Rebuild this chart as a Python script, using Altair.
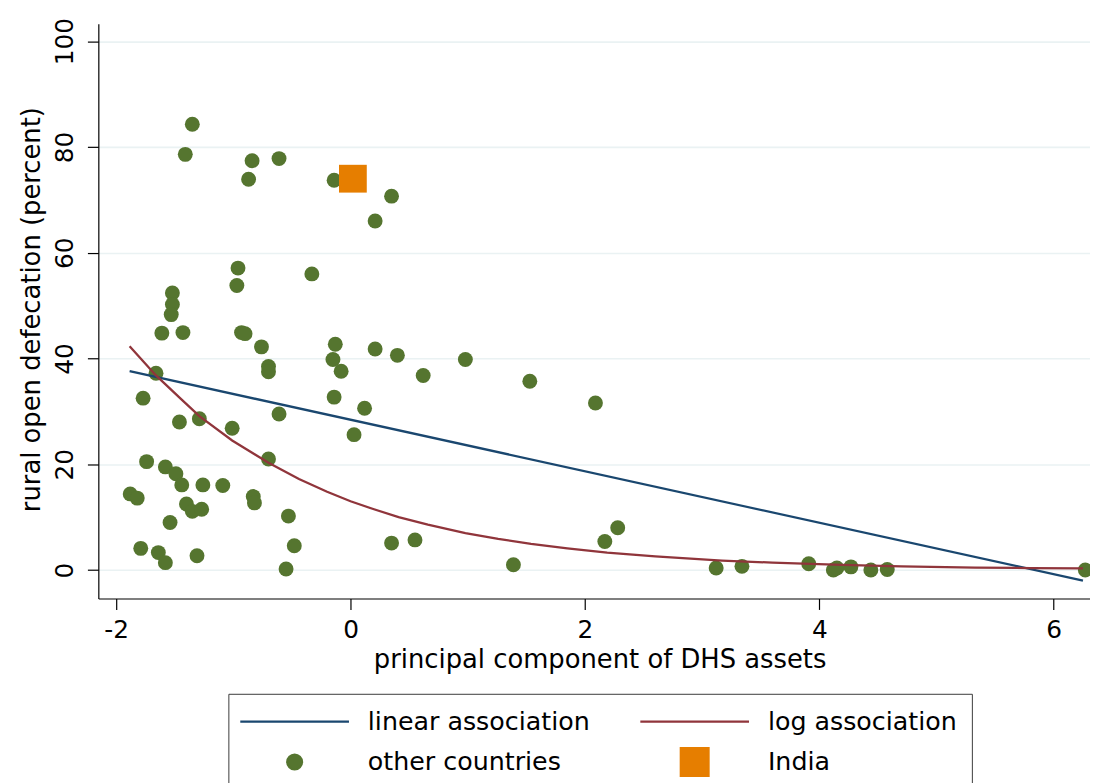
import altair as alt
import pandas as pd

# ---- data ----
other_x = [-1.35, -1.41, -0.84, -0.61, -0.87, -0.14, 0.35, 0.21, -0.96, -0.97,
           -0.33, -1.52, -1.52, -1.53, -1.61, -1.43, -0.93, -0.90, -0.76, -0.13,
           -0.15, -0.08, -0.70, -0.70, 0.21, 0.40, 0.98, 0.62, 1.53, 2.09,
           -1.66, -1.77, -0.14, 0.12, -0.61, -1.46, -1.29, -1.01, 0.03, -1.74,
           -0.70, -1.58, -1.49, -1.44, -1.26, -1.09, -1.88, -1.82, -0.83, -0.82,
           -1.40, -1.35, -1.27, -1.54, -0.53, -1.79, -1.64, -1.58, -1.31, -0.48,
           -0.55, 0.35, 0.55, 1.39, 2.17, 2.28, 3.12, 3.34, 3.91, 4.12,
           4.15, 4.27, 4.44, 4.58, 6.27]
other_y = [84.3, 78.6, 77.4, 77.8, 73.9, 73.7, 70.7, 66.0, 57.1, 53.8,
           56.0, 52.4, 50.2, 48.3, 44.8, 44.9, 44.9, 44.7, 42.2, 42.7,
           39.8, 37.6, 38.5, 37.5, 41.8, 40.6, 39.8, 36.8, 35.7, 31.6,
           37.2, 32.5, 32.7, 30.6, 29.5, 28.0, 28.6, 26.8, 25.6, 20.5,
           21.0, 19.5, 18.2, 16.1, 16.1, 16.0, 14.4, 13.6, 13.9, 12.7,
           12.5, 11.1, 11.5, 9.0, 10.2, 4.1, 3.3, 1.4, 2.7, 4.6,
           0.2, 5.1, 5.7, 1.0, 5.4, 8.0, 0.4, 0.7, 1.2, 0.0,
           0.4, 0.6, 0.0, 0.1, 0.0]
india_x = [0.02]
india_y = [74.0]
linear_x = [-1.885, 6.25]
linear_y = [37.6, -2.0]
log_x = [-1.885, -1.66, -1.45, -1.29, -1.01, -0.70, -0.44, -0.20, 0.0, 0.2,
         0.41, 0.66, 0.98, 1.26, 1.54, 1.85, 2.19, 2.6, 3.17, 3.6,
         4.19, 4.7, 5.33, 5.8, 6.25]
log_y = [42.3, 36.8, 32.4, 29.1, 24.5, 20.3, 17.2, 14.8, 13.0, 11.5,
         10.0, 8.6, 7.0, 5.9, 4.95, 4.1, 3.3, 2.6, 1.8, 1.4,
         0.96, 0.7, 0.47, 0.38, 0.3]

SERIES = ["linear association", "log association", "other countries", "India"]
COLORS = ["#1a476f", "#90353b", "#55752f", "#e67e00"]

pts = pd.DataFrame({"x": other_x, "y": other_y, "series": "other countries"})
india = pd.DataFrame({"x": india_x, "y": india_y, "series": "India"})
lin = pd.DataFrame({"x": linear_x, "y": linear_y, "series": "linear association"})
logd = pd.DataFrame({"x": log_x, "y": log_y, "series": "log association"})

FONT = "DejaVu Sans"
# symbol paths, drawn at size 225 (7.5 px per path unit)
LINE = "M -7.3,0 L 7.3,0"
SQUARE = "M -1.867,-1.867 L 1.867,-1.867 L 1.867,1.867 L -1.867,1.867 Z"
SHAPES = [LINE, LINE, "circle", SQUARE]

legend = alt.Legend(
    orient="none", legendX=131, legendY=675, columns=2, direction="horizontal", title=None,
    strokeColor="#3a3a3a", fillColor="white", padding=15,
    labelFont=FONT, labelFontSize=25.5, labelColor="black", labelLimit=600,
    symbolOffset=39, labelOffset=61, columnPadding=45, rowPadding=8,
    symbolSize=225, symbolStrokeWidth=2.2, symbolOpacity=1,
)

color = alt.Color("series:N", scale=alt.Scale(domain=SERIES, range=COLORS), legend=legend)
shape = alt.Shape("series:N", scale=alt.Scale(domain=SERIES, range=SHAPES), legend=legend)

xenc = alt.X("x:Q", scale=alt.Scale(domain=[-2.152, 6.31], nice=False, zero=False),
             axis=alt.Axis(values=[-2, 0, 2, 4, 6], title="principal component of DHS assets",
                           grid=False, labelPadding=8,
                           labelExpr="replace(datum.label, '\u2212', '-')",
                           titleX=505, titleY=69.5, titleAlign="center",
                           titleBaseline="alphabetic"))
yenc = alt.Y("y:Q", scale=alt.Scale(domain=[-5.38, 103.3], nice=False, zero=False),
             axis=alt.Axis(values=[0, 20, 40, 60, 80, 100], title="rural open defecation (percent)",
                           grid=True, gridColor="#eaf2f3", gridWidth=1.6,
                           labelAngle=270, labelAlign="center", labelBaseline="alphabetic",
                           labelPadding=15, titleAngle=270, titleAlign="center",
                           titleBaseline="alphabetic", titleX=-59, titleY=287.5))

points = alt.Chart(pts).mark_point(filled=True, size=225, opacity=1, strokeWidth=0).encode(
    x=xenc, y=yenc, color=color, shape=shape)
lin_line = alt.Chart(lin).mark_line(strokeWidth=2.3).encode(x=xenc, y=yenc, color=color)
log_line = alt.Chart(logd).mark_line(strokeWidth=2.3).encode(x=xenc, y=yenc, color=color)
india_pt = alt.Chart(india).mark_point(filled=True, size=225, opacity=1, strokeWidth=0).encode(
    x=xenc, y=yenc, color=color, shape=shape)

chart = alt.layer(points, lin_line, log_line, india_pt).properties(
    width=999, height=579,
    padding={"left": 91, "top": 13, "right": 0, "bottom": 183},
    autosize=alt.AutoSizeParams(type="none"),
    background="white",
).configure_view(stroke=None).configure_axis(
    domainColor="black", domainWidth=1.2, tickColor="black", tickWidth=1.2, tickSize=11,
    labelFont=FONT, labelFontSize=25, labelColor="black",
    titleFont=FONT, titleFontSize=26, titleFontWeight="normal", titleColor="black",
)

chart.save("out.html", embed_options={"renderer": "svg", "actions": False})
